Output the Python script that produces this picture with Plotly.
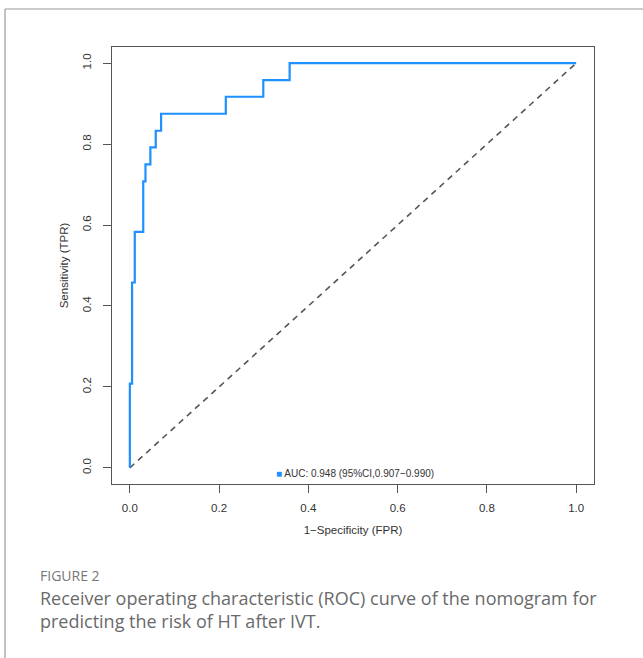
import plotly.graph_objects as go

# ROC curve data (step corners, drawn with vertical-then-horizontal steps)
fpr = [0.0, 0.005, 0.011, 0.030, 0.035, 0.046, 0.058, 0.070, 0.215, 0.299, 0.358, 1.0]
tpr = [0.0, 0.208, 0.458, 0.583, 0.708, 0.750, 0.792, 0.833, 0.875, 0.917, 0.958, 1.0]
ref_x = [0.0, 1.0]
ref_y = [0.0, 1.0]
tick_vals = [0.0, 0.2, 0.4, 0.6, 0.8, 1.0]
tick_text = ["0.0", "0.2", "0.4", "0.6", "0.8", "1.0"]
legend_label = "AUC: 0.948 (95%CI,0.907\u22120.990)"

W, H = 643, 658
L, T, R, B = 112, 47, 594, 484
pw, ph = R - L, B - T

def px(x):
    return (x - L) / pw

def py(y):
    return (B - y) / ph

fig = go.Figure()
fig.add_trace(go.Scatter(x=ref_x, y=ref_y, mode="lines",
                         line=dict(color="#555555", width=1.6, dash="6px,5px"),
                         showlegend=False, hoverinfo="skip"))
fig.add_trace(go.Scatter(x=fpr, y=tpr, mode="lines", line_shape="vh",
                         line=dict(color="#1E90FF", width=2.2),
                         showlegend=False))

axis_common = dict(range=[-0.04, 1.04], tickvals=tick_vals, ticktext=tick_text,
                   showgrid=False, zeroline=False, showline=True, mirror=True,
                   linecolor="#555555", linewidth=1.3, ticks="outside",
                   ticklen=8, tickwidth=1.2, tickcolor="#555555",
                   tickfont=dict(family="Liberation Sans, Arial", size=11.5, color="#333333"))

fig.update_layout(
    width=W, height=H,
    margin=dict(l=L, t=T, r=W - R, b=H - B, autoexpand=False),
    paper_bgcolor="white", plot_bgcolor="white",
    xaxis=dict(**axis_common, ticklabelstandoff=5,
               title=dict(text="1\u2212Specificity (FPR)", standoff=12,
                          font=dict(family="Liberation Sans, Arial", size=11.5, color="#333333"))),
    yaxis=dict(**axis_common, tickangle=-90, ticklabelstandoff=7,
               title=dict(text="Sensitivity (TPR)", standoff=10,
                          font=dict(family="Liberation Sans, Arial", size=11.5, color="#333333"))),
    annotations=[
        dict(xref="paper", yref="paper", x=px(274), y=py(473), xanchor="left", yanchor="middle",
             showarrow=False,
             text="<span style='color:#1E90FF'>\u25A0</span> " + legend_label,
             font=dict(family="Liberation Sans, Arial", size=10, color="#333333")),
        dict(xref="paper", yref="paper", x=px(38), y=py(575), xanchor="left", yanchor="middle",
             showarrow=False, text="FIGURE 2",
             font=dict(family="Open Sans", size=14, color="#777777")),
        dict(xref="paper", yref="paper", x=px(38), y=py(609), xanchor="left", yanchor="middle",
             showarrow=False, align="left",
             text="Receiver operating characteristic (ROC) curve of the nomogram for<br>predicting the risk of HT after IVT.",
             font=dict(family="Open Sans", size=18, color="#6a6a6a")),
    ],
    shapes=[
        dict(type="line", xref="paper", yref="paper", x0=px(5), x1=px(660), y0=py(9), y1=py(9),
             line=dict(color="#999999", width=1.2)),
        dict(type="line", xref="paper", yref="paper", x0=px(5), x1=px(5), y0=py(9), y1=py(670),
             line=dict(color="#999999", width=1.2)),
    ],
)

fig.write_html("out.html", config={"displayModeBar": False},
               post_script="document.body.style.margin='0';")
